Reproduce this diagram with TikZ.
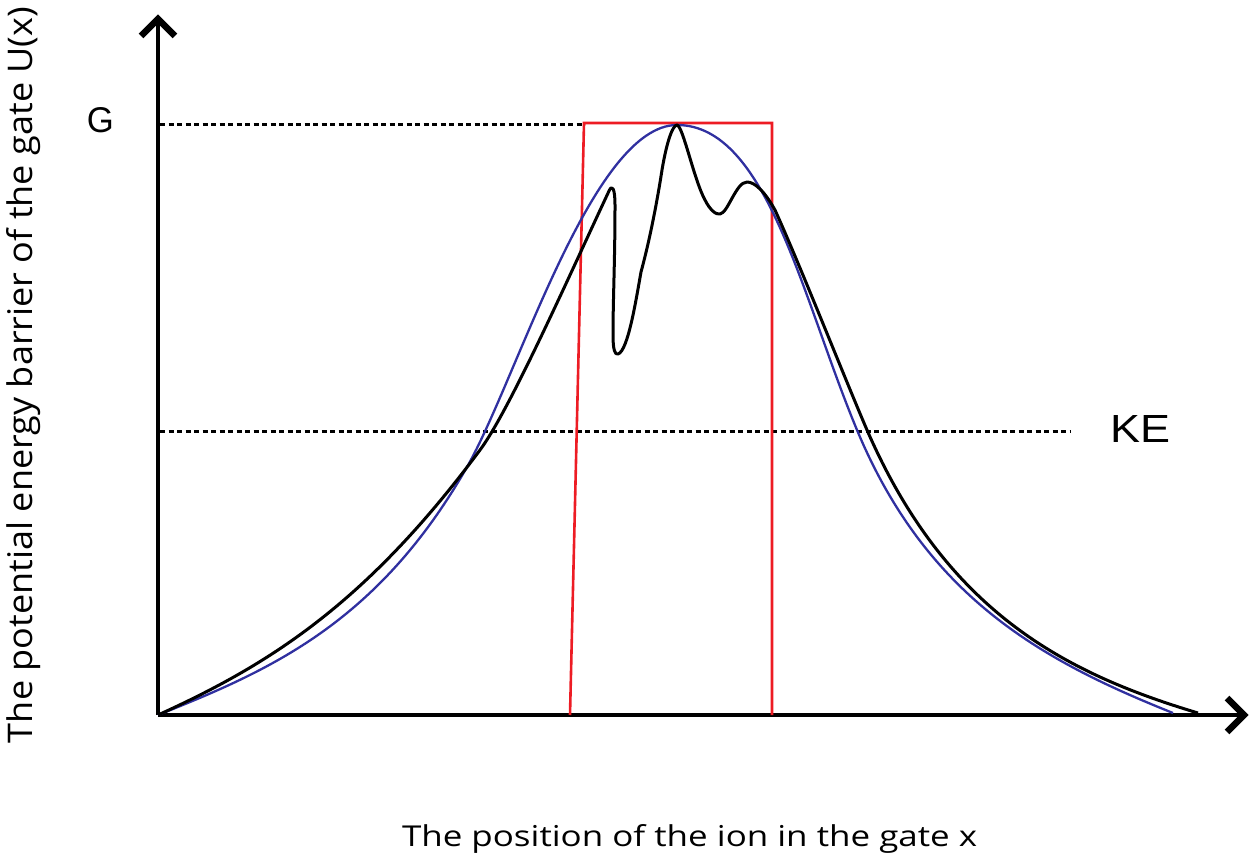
\documentclass[tikz,border=0pt]{standalone}
\usepackage{fontspec}
\setmainfont{Open Sans}
\newfontfamily\arialfont{Liberation Sans}
\definecolor{redline}{RGB}{237,28,36}
\definecolor{blueline}{RGB}{48,48,160}
\begin{document}
\begin{tikzpicture}[x=1pt,y=-1pt,
  axisline/.style={line width=4.2pt},
  chevron/.style={line width=6.5pt,miter limit=10},
  dottedlevel/.style={line width=3pt,dash pattern=on 5pt off 3.5pt},
  gatebox/.style={draw=redline,line width=2.6pt},
  idealcurve/.style={draw=blueline,line width=2.3pt},
  realcurve/.style={draw=black,line width=3pt,line join=round},
  lbl/.style={inner sep=0pt,outer sep=0pt}]
\useasboundingbox (0,0) rectangle (1253,861);
% coordinates
\coordinate (O) at (158,715);
\coordinate (Ytop) at (158,20);
\coordinate (Xend) at (1243,715);
\coordinate (Gl) at (160,125);
\coordinate (Gr) at (585,125);
\coordinate (Kl) at (160,431);
\coordinate (Kr) at (1070,431);
\coordinate (RTL) at (584,123);
\coordinate (RTR) at (772,123);
\coordinate (RBL) at (570,715);
\coordinate (RBR) at (772,715);
% axes
\draw[axisline] (O) -- (Ytop);
\draw[axisline] (O) -- (Xend);
\draw[chevron] (141,36) -- (158,19) -- (175,36);
\draw[chevron] (1227,698) -- (1244,715) -- (1227,732);
% dotted levels
\draw[dottedlevel] (Gl) -- (Gr);
\draw[dottedlevel] (Kl) -- (Kr);
% red gate
\draw[gatebox] (RBL) -- (RTL) -- (RTR) -- (RBR);
% blue ideal barrier
\draw[idealcurve] (158,715) .. controls (268,671) and (377,624.5) .. (467,467)
  .. controls (517,379.5) and (592,125) .. (677,125)
  .. controls (767,125) and (802,298) .. (857,430)
  .. controls (927,598) and (1043,661) .. (1173,713);
% black real barrier
\draw[realcurve] (158,715) .. controls (268,665) and (365,605) .. (480,450)
  .. controls (510,409.5) and (570,274) .. (609,191)
  .. controls (612,184) and (615,188) .. (615,205)
  .. controls (615,260) and (613,300) .. (613,335)
  .. controls (613,350) and (615,355) .. (618,354)
  .. controls (628,351) and (636,300) .. (641,272)
  .. controls (647,250) and (655,215) .. (662,170)
  .. controls (667,140) and (673,125) .. (677,125)
  .. controls (683,126) and (694,180) .. (705,200)
  .. controls (710,210) and (716,215) .. (720,214)
  .. controls (728,213) and (736,182) .. (747,182)
  .. controls (755,182) and (765,192) .. (775,210)
  .. controls (800,265) and (845,379) .. (867,430)
  .. controls (947,614) and (1068,674) .. (1198,713);
% labels
\node[lbl,anchor=base east] (G) at (114,133) {\resizebox{27pt}{25pt}{\arialfont G}};
\node[lbl,anchor=base west] (KE) at (1110,442) {\resizebox{60pt}{27pt}{\arialfont KE}};
\node[lbl,anchor=base west] (xlab) at (402,846) {\resizebox{575pt}{22pt}{The position of the ion in the gate x}};
\node[lbl,anchor=base west,rotate=90] (ylab) at (32,743) {\resizebox{736pt}{26pt}{The potential energy barrier of the gate U(x)}};
\end{tikzpicture}
\end{document}
